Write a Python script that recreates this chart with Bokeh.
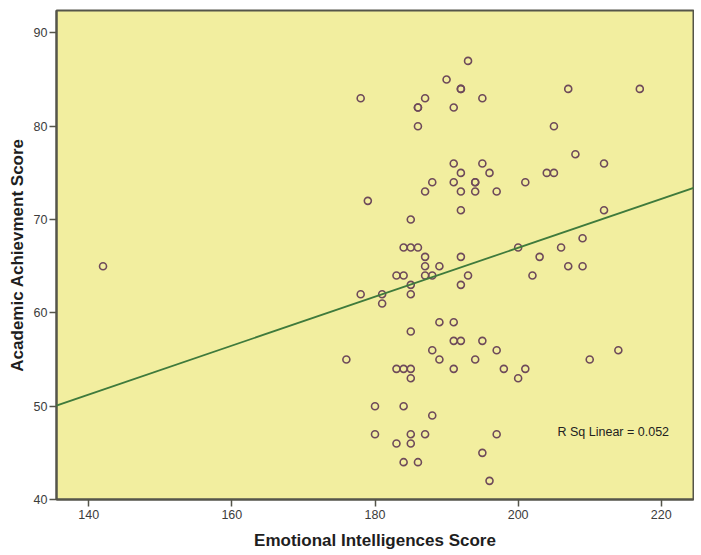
from bokeh.plotting import figure
from bokeh.models import Range1d, FixedTicker, Label, Slope
from bokeh.embed import file_html
from bokeh.resources import INLINE

# Emotional Intelligences Score (x) and Academic Achievment Score (y)
ei_score = [193, 190, 192, 192, 207, 217, 178, 187, 195, 186, 186, 191, 186, 205,
            208, 191, 195, 212, 192, 196, 204, 205, 188, 191, 194, 194, 201,
            187, 192, 194, 197, 179, 192, 212, 185, 184, 185, 186, 200, 206,
            209, 187, 192, 203, 142, 187, 189, 207, 209, 183, 184, 187, 188,
            193, 202, 185, 192, 178, 181, 185, 181, 189, 191, 185, 191, 192,
            195, 188, 197, 214, 176, 189, 194, 210, 183, 184, 185, 191, 198,
            201, 185, 200, 180, 184, 188, 180, 185, 187, 197, 183, 185, 195,
            184, 186, 196]
ach_score = [87, 85, 84, 84, 84, 84, 83, 83, 83, 82, 82, 82, 80, 80,
             77, 76, 76, 76, 75, 75, 75, 75, 74, 74, 74, 74, 74,
             73, 73, 73, 73, 72, 71, 71, 70, 67, 67, 67, 67, 67,
             68, 66, 66, 66, 65, 65, 65, 65, 65, 64, 64, 64, 64,
             64, 64, 63, 63, 62, 62, 62, 61, 59, 59, 58, 57, 57,
             57, 56, 56, 56, 55, 55, 55, 55, 54, 54, 54, 54, 54,
             54, 53, 53, 50, 50, 49, 47, 47, 47, 47, 46, 46, 45,
             44, 44, 42]

x_ticks = [140, 160, 180, 200, 220]
y_ticks = [40, 50, 60, 70, 80, 90]

fit_slope = 0.262
fit_intercept = 14.57
r_sq_text = "R Sq Linear = 0.052"

BG = "#F2EE9F"
FRAME = "#55554a"

p = figure(width=694, height=555, output_backend="svg", toolbar_location=None,
           x_range=Range1d(135.5, 224.5), y_range=Range1d(40, 92.4),
           min_border_left=56, min_border_right=1, min_border_top=10, min_border_bottom=56)

p.background_fill_color = BG
p.border_fill_color = "white"
p.outline_line_color = FRAME
p.outline_line_width = 2
p.xgrid.visible = False
p.ygrid.visible = False

p.xaxis.ticker = FixedTicker(ticks=x_ticks)
p.yaxis.ticker = FixedTicker(ticks=y_ticks)
p.xaxis.minor_tick_line_color = None
p.yaxis.minor_tick_line_color = None

for ax in (p.xaxis, p.yaxis):
    ax.axis_line_color = FRAME
    ax.axis_line_width = 2
    ax.major_tick_line_color = FRAME
    ax.major_tick_line_width = 1.5
    ax.major_tick_in = 0
    ax.major_tick_out = 7
    ax.major_label_text_font = "Liberation Sans"
    ax.major_label_text_font_size = "12.5px"
    ax.major_label_text_color = "#3c3c3c"
    ax.axis_label_text_font = "Liberation Sans"
    ax.axis_label_text_font_style = "bold"
    ax.axis_label_text_font_size = "17px"
    ax.axis_label_text_color = "#1e1e1e"

p.xaxis.axis_label = "Emotional Intelligences Score"
p.yaxis.axis_label = "Academic Achievment Score"
p.xaxis.major_label_standoff = 3
p.yaxis.major_label_standoff = 2
p.xaxis.axis_label_standoff = 9
p.yaxis.axis_label_standoff = 4

p.add_layout(Slope(gradient=fit_slope, y_intercept=fit_intercept,
                   line_color="#3f7a3c", line_width=1.8))

p.scatter(ei_score, ach_score, marker="circle", size=7, fill_color=None,
          line_color="#6e4a5a", line_width=1.6)

p.add_layout(Label(x=205.5, y=47.2, text=r_sq_text, text_font="Liberation Sans",
                   text_font_size="12.5px", text_color="#222222", text_baseline="middle"))

open("out.html", "w").write(file_html(p, INLINE))
